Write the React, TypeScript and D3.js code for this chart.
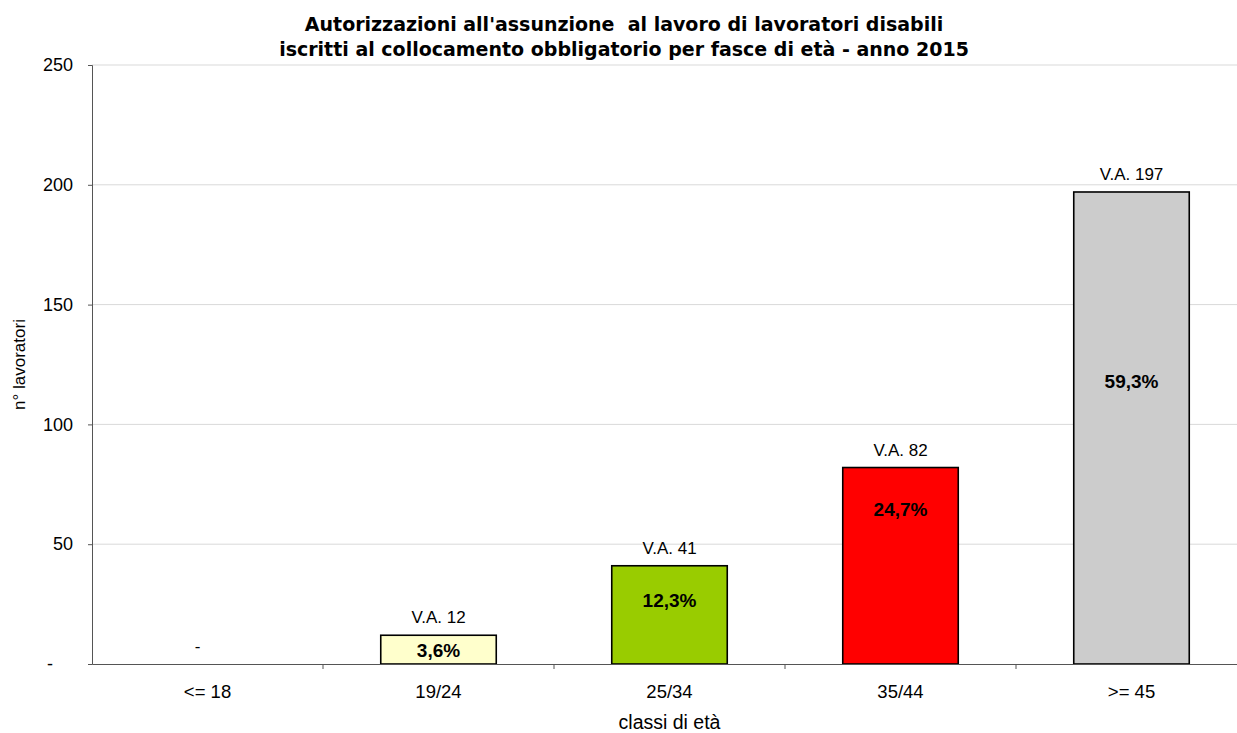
import { useEffect, useRef } from 'react';
import * as d3 from 'd3';

const categories = ['<= 18', '19/24', '25/34', '35/44', '>= 45'];
const values = [0, 12, 41, 82, 197];
const percentLabels = ['', '3,6%', '12,3%', '24,7%', '59,3%'];
// height (in lavoratori) at which each percentage label sits
const percentLabelAt = [0, 5.8, 26.7, 64.7, 118];
const barColors = ['#ffffcc', '#ffffcc', '#99cc00', '#ff0000', '#cccccc'];
const yTicks = [0, 50, 100, 150, 200, 250];
const titleLines = [
  "Autorizzazioni all'assunzione  al lavoro di lavoratori disabili",
  'iscritti al collocamento obbligatorio per fasce di età - anno 2015',
];

function App() {
  const svgRef = useRef<SVGSVGElement | null>(null);
  const width = 1237;
  const height = 733;
  const margin = { top: 65, right: -10, bottom: 69, left: 92 };

  useEffect(() => {
    const svg = d3.select(svgRef.current);
    svg.selectAll('*').remove();

    const x = d3
      .scaleBand()
      .domain(categories)
      .range([margin.left, width - margin.right])
      .padding(0);

    const y = d3
      .scaleLinear()
      .domain([0, 250])
      .range([height - margin.bottom, margin.top]);

    const font = '"Liberation Sans", Arial, sans-serif';

    // gridlines
    svg
      .append('g')
      .selectAll('line')
      .data(yTicks.filter((t) => t > 0))
      .enter()
      .append('line')
      .attr('x1', margin.left)
      .attr('x2', width - margin.right)
      .attr('y1', (d) => y(d))
      .attr('y2', (d) => y(d))
      .attr('stroke', '#d9d9d9')
      .attr('stroke-width', 1);

    // bars
    const bw = x.bandwidth() / 2;
    const barData = categories.map((c, i) => ({ c, v: values[i], color: barColors[i] })).filter((d) => d.v > 0);
    svg
      .append('g')
      .selectAll('rect')
      .data(barData)
      .enter()
      .append('rect')
      .attr('x', (d) => (x(d.c) as number) + bw / 2)
      .attr('y', (d) => y(d.v))
      .attr('width', bw)
      .attr('height', (d) => y(0) - y(d.v))
      .attr('fill', (d) => d.color)
      .attr('stroke', '#000')
      .attr('stroke-width', 1.6);

    // y axis
    const yAxis = svg
      .append('g')
      .attr('transform', `translate(${margin.left},0)`)
      .call(
        d3
          .axisLeft(y)
          .tickValues(yTicks)
          .tickSize(4)
          .tickPadding(15)
          .tickFormat((d) => (d === 0 ? '-' : String(d)))
      );
    yAxis.select('.domain').attr('stroke', '#555');
    yAxis.selectAll('.tick line').attr('stroke', '#555');
    yAxis
      .selectAll<SVGTextElement, number>('.tick text')
      .attr('font-family', font)
      .attr('font-size', 18)
      .attr('fill', '#000')
      .attr('dx', (d) => (d === 0 ? -20 : 0));

    // x axis
    const xAxis = svg
      .append('g')
      .attr('transform', `translate(0,${y(0)})`)
      .call(d3.axisBottom(x).tickSize(0).tickPadding(21));
    xAxis.select('.domain').attr('stroke', '#555');
    xAxis
      .selectAll('.tick text')
      .attr('font-family', font)
      .attr('font-size', 18.5)
      .attr('fill', '#000');
    // category separator ticks
    xAxis
      .append('g')
      .selectAll('line')
      .data(categories.slice(1))
      .enter()
      .append('line')
      .attr('x1', (d) => x(d) as number)
      .attr('x2', (d) => x(d) as number)
      .attr('y1', 0)
      .attr('y2', 5)
      .attr('stroke', '#555');

    // value labels above bars
    svg
      .append('g')
      .selectAll('text')
      .data(values)
      .enter()
      .append('text')
      .attr('x', (d, i) => (x(categories[i]) as number) + x.bandwidth() / 2)
      .attr('dx', (d) => (d === 0 ? -10 : 0))
      .attr('y', (d) => y(d) - 12)
      .attr('text-anchor', 'middle')
      .attr('font-family', font)
      .attr('font-size', 17)
      .attr('fill', '#000')
      .text((d) => (d === 0 ? '-' : `V.A. ${d}`));

    // percentage labels inside bars
    svg
      .append('g')
      .selectAll('text')
      .data(percentLabels)
      .enter()
      .append('text')
      .attr('x', (d, i) => (x(categories[i]) as number) + x.bandwidth() / 2)
      .attr('y', (d, i) => y(percentLabelAt[i]))
      .attr('dy', '0.35em')
      .attr('text-anchor', 'middle')
      .attr('font-family', font)
      .attr('font-size', 19)
      .attr('font-weight', 'bold')
      .attr('fill', '#000')
      .text((d) => d);

    // title
    svg
      .append('g')
      .selectAll('text')
      .data(titleLines)
      .enter()
      .append('text')
      .attr('x', 624)
      .attr('y', (d, i) => 31 + i * 25)
      .attr('text-anchor', 'middle')
      .attr('font-family', '"DejaVu Sans", Verdana, sans-serif')
      .attr('font-size', 19)
      .attr('font-weight', 'bold')
      .attr('fill', '#000')
      .style('white-space', 'pre')
      .text((d) => d);

    // axis titles
    svg
      .append('text')
      .attr('x', (margin.left + width - margin.right) / 2)
      .attr('y', 729)
      .attr('text-anchor', 'middle')
      .attr('font-family', font)
      .attr('font-size', 19.5)
      .attr('fill', '#000')
      .text('classi di età');

    svg
      .append('text')
      .attr('transform', `translate(25,${(y(0) + y(250)) / 2}) rotate(-90)`)
      .attr('text-anchor', 'middle')
      .attr('font-family', font)
      .attr('font-size', 17)
      .attr('fill', '#000')
      .text('n° lavoratori');
  }, []);

  return (
    <svg
      ref={svgRef}
      width={width}
      height={height}
      style={{ position: 'absolute', left: 0, top: 0, background: '#fff' }}
    />
  );
}

export default App;
